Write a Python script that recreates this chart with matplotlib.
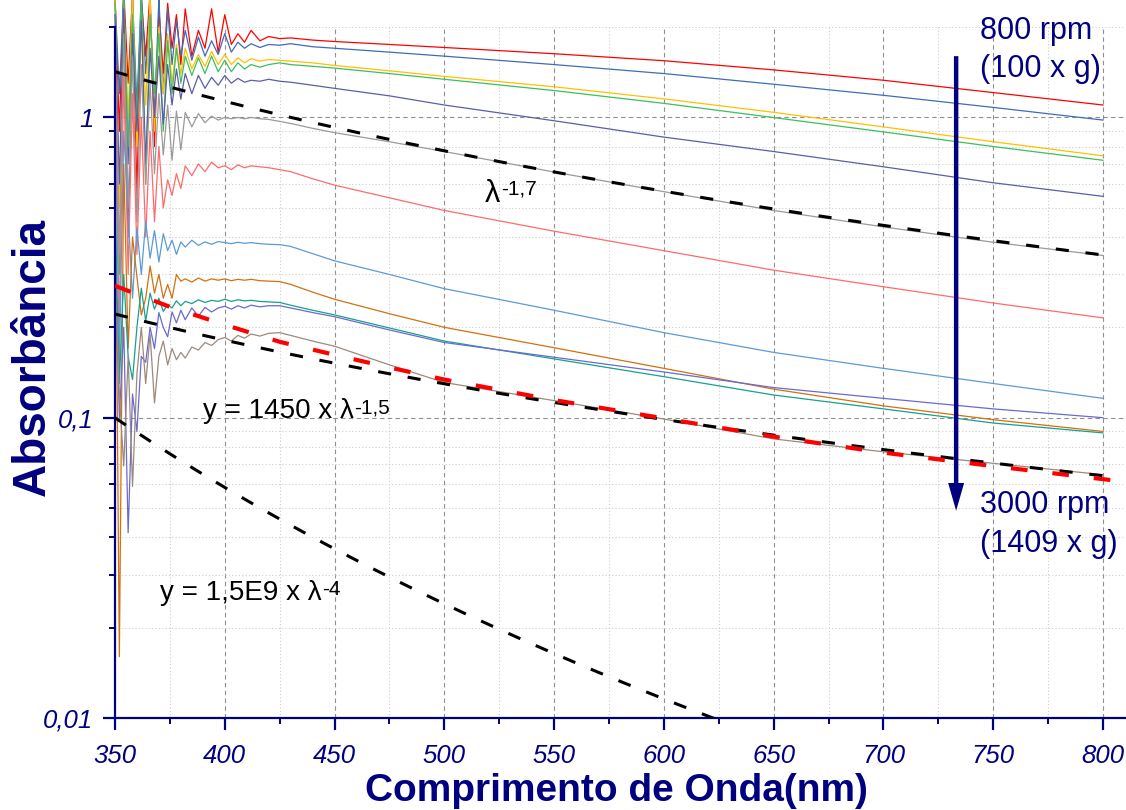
import numpy as np
import matplotlib
matplotlib.use('Agg')
import matplotlib.pyplot as plt
from matplotlib.ticker import FixedLocator, FixedFormatter, NullFormatter

plt.rcParams['font.family'] = ['Liberation Sans', 'DejaVu Sans']

navy = '#000080'

# wavelength grid of the spectra (nm)
wl = [350, 352, 354, 356, 358, 360, 362, 364, 366, 368,
      370, 372, 374, 376, 378, 380, 382, 385, 388, 391,
      394, 397, 400, 403, 406, 409, 412, 416, 420, 425,
      430, 440, 450, 475, 500, 550, 600, 650, 700, 750, 800]

# absorbance spectra, 800 rpm (top) down to 3000 rpm (bottom)
abs_01 = [2.6, 0.9, 2.7, 1.3, 2.6, 0.55, 2.5, 1.6, 2.6, 0.8,
          2.3, 1.4, 2.4, 1.7, 2.2, 1.5, 2.3, 1.6, 1.95, 1.7,
          2.3, 1.65, 2.2, 1.75, 1.9, 1.78, 1.95, 1.8, 1.86, 1.83,
          1.84, 1.81, 1.79, 1.75, 1.71, 1.63, 1.545, 1.44, 1.33, 1.21, 1.10]
abs_02 = [2.5, 1.2, 2.6, 0.7, 2.5, 1.1, 2.6, 1.4, 2.4, 1.0,
          2.5, 1.2, 2.3, 1.5, 2.1, 1.6, 1.95, 1.55, 1.85, 1.6,
          1.8, 1.62, 1.9, 1.65, 1.78, 1.7, 1.76, 1.71, 1.75, 1.74,
          1.76, 1.72, 1.70, 1.65, 1.60, 1.50, 1.40, 1.29, 1.185, 1.08, 0.98]
abs_03 = [2.6, 0.5, 2.4, 1.0, 2.6, 0.8, 2.3, 1.1, 2.5, 0.9,
          2.0, 1.2, 1.9, 1.3, 1.75, 1.4, 1.7, 1.45, 1.62, 1.48,
          1.66, 1.5, 1.62, 1.5, 1.58, 1.52, 1.57, 1.54, 1.56, 1.55,
          1.54, 1.52, 1.49, 1.43, 1.37, 1.265, 1.153, 1.04, 0.93, 0.83, 0.745]
abs_04 = [2.4, 0.3, 2.5, 0.8, 2.2, 1.0, 2.5, 0.6, 2.2, 1.2,
          1.9, 0.9, 1.8, 1.2, 1.7, 1.3, 1.6, 1.38, 1.58, 1.4,
          1.6, 1.42, 1.55, 1.42, 1.52, 1.45, 1.5, 1.47, 1.5, 1.52,
          1.5, 1.48, 1.46, 1.40, 1.34, 1.229, 1.114, 0.999, 0.895, 0.80, 0.72]
abs_05 = [2.2, 0.6, 2.3, 0.4, 1.9, 0.9, 2.1, 0.7, 1.7, 1.0,
          1.6, 0.95, 1.5, 1.1, 1.45, 1.15, 1.4, 1.2, 1.38, 1.25,
          1.36, 1.28, 1.38, 1.3, 1.35, 1.31, 1.33, 1.32, 1.34, 1.32,
          1.31, 1.28, 1.25, 1.18, 1.10, 0.975, 0.86, 0.77, 0.685, 0.606, 0.546]
abs_06 = [2.0, 0.35, 1.9, 0.5, 1.6, 0.45, 1.5, 0.6, 1.3, 0.65,
          1.2, 0.75, 1.1, 0.72, 1.05, 0.78, 1.04, 0.93, 1.03, 0.96,
          1.01, 0.98, 1.0, 0.99, 1.0, 0.99, 1.0, 0.99, 0.985, 0.97,
          0.955, 0.92, 0.89, 0.83, 0.77, 0.658, 0.566, 0.49, 0.432, 0.384, 0.347]
abs_07 = [1.6, 0.2, 1.4, 0.3, 1.2, 0.35, 1.0, 0.4, 0.9, 0.45,
          0.8, 0.5, 0.62, 0.55, 0.65, 0.58, 0.69, 0.64, 0.7, 0.66,
          0.71, 0.68, 0.69, 0.67, 0.695, 0.68, 0.69, 0.685, 0.68, 0.67,
          0.66, 0.625, 0.595, 0.54, 0.49, 0.418, 0.36, 0.31, 0.273, 0.241, 0.215]
abs_08 = [1.2, 0.15, 0.9, 0.48, 0.25, 0.43, 0.3, 0.45, 0.34, 0.42,
          0.33, 0.41, 0.36, 0.39, 0.35, 0.385, 0.37, 0.39, 0.375, 0.385,
          0.378, 0.386, 0.383, 0.38, 0.384, 0.381, 0.383, 0.38, 0.378, 0.377,
          0.372, 0.352, 0.333, 0.30, 0.269, 0.228, 0.192, 0.165, 0.146, 0.13, 0.116]
abs_09 = [0.9, 0.016, 0.7, 0.17, 0.4, 0.295, 0.22, 0.25, 0.32, 0.26,
          0.3, 0.25, 0.278, 0.25, 0.3, 0.285, 0.29, 0.283, 0.292, 0.285,
          0.29, 0.287, 0.29, 0.286, 0.289, 0.287, 0.289, 0.286, 0.285, 0.284,
          0.278, 0.262, 0.248, 0.222, 0.20, 0.171, 0.146, 0.1245, 0.1095, 0.0985, 0.090]
abs_10 = [0.5, 0.13, 0.3, 0.16, 0.134, 0.2, 0.27, 0.21, 0.26, 0.23,
          0.25, 0.226, 0.238, 0.232, 0.245, 0.236, 0.244, 0.24, 0.247, 0.242,
          0.246, 0.244, 0.248, 0.244, 0.247, 0.245, 0.246, 0.244, 0.243, 0.242,
          0.237, 0.228, 0.22, 0.199, 0.18, 0.157, 0.137, 0.119, 0.107, 0.096, 0.089]
abs_11 = [0.35, 0.1, 0.2, 0.0414, 0.12, 0.09, 0.16, 0.153, 0.2, 0.17,
          0.224, 0.2, 0.186, 0.225, 0.207, 0.228, 0.212, 0.232, 0.218, 0.233,
          0.225, 0.232, 0.235, 0.23, 0.236, 0.232, 0.237, 0.234, 0.236, 0.236,
          0.232, 0.224, 0.217, 0.196, 0.178, 0.159, 0.142, 0.126, 0.116, 0.107, 0.100]
abs_12 = [0.3, 0.12, 0.069, 0.16, 0.059, 0.14, 0.2, 0.13, 0.19, 0.112,
          0.16, 0.18, 0.15, 0.17, 0.156, 0.165, 0.158, 0.172, 0.168, 0.178,
          0.174, 0.182, 0.185, 0.18, 0.188, 0.184, 0.19, 0.187, 0.191, 0.192,
          0.188, 0.18, 0.173, 0.15, 0.131, 0.114, 0.099, 0.085, 0.077, 0.0705, 0.0646]

spectra = [abs_01, abs_02, abs_03, abs_04, abs_05, abs_06,
           abs_07, abs_08, abs_09, abs_10, abs_11, abs_12]
colors = ['#ff0000', '#3d6db5', '#ffc000', '#3cbf5c', '#5b5ea6', '#9a9a9a',
          '#ff6b6b', '#5b9bd5', '#d3700f', '#17a08f', '#6a6ad0', '#9c8a7e']

# empirical fit of the last spectrum (red dashed)
fit_wl = [350, 375, 400, 425, 450, 475, 500, 550, 600, 650, 700, 750, 805]
fit_abs = [0.275, 0.234, 0.204, 0.179, 0.162, 0.147, 0.134, 0.1145,
           0.0995, 0.0865, 0.0765, 0.069, 0.0618]

# power laws y = A * lambda^-n
law_17 = (3.0e4, 1.7)
law_15 = (1450., 1.5)
law_4 = (1.5e9, 4.0)


def power_label(ax, x, y, base, sup, size, sup_size):
    """text with a superscript glued to its upper right corner"""
    t = ax.text(x, y, base, fontsize=size, ha='left', va='baseline')
    ax.annotate(sup, xy=(1, 1), xycoords=t, xytext=(0.5, 0),
                textcoords='offset points', fontsize=sup_size,
                ha='left', va='top')
    return t


fig = plt.figure(figsize=(11.26, 8.10), dpi=100)
ax = fig.add_axes([0.1021, 0.1136, 0.897, 0.853])
ax.set_yscale('log')
ax.set_xlim(350, 810)
ax.set_ylim(0.01, 2.0)

# grid
for x in range(400, 801, 50):
    ax.axvline(x, color='#909090', lw=0.8, ls=(0, (4, 3)), zorder=0)
for x in range(375, 801, 50):
    ax.axvline(x, color='#cccccc', lw=0.8, ls=(0, (1, 2)), zorder=0)
for y in [0.1, 1.0]:
    ax.axhline(y, color='#909090', lw=0.8, ls=(0, (4, 3)), zorder=0)
for dec in [0.01, 0.1, 1.0]:
    for m in range(2, 10):
        if dec * m <= 2.0:
            ax.axhline(dec * m, color='#cccccc', lw=0.8, ls=(0, (1, 2)),
                       zorder=0)

for vals, c in zip(spectra, colors):
    ax.plot(wl, vals, color=c, lw=0.9, clip_on=False, zorder=2)

lam = np.linspace(350, 803, 300)
for A, n in [law_17, law_15, law_4]:
    ax.plot(lam, A * lam**-n, color='k', lw=2.2, dashes=(4.3, 5.5), zorder=3)
ax.plot(fit_wl, fit_abs, color='#ff0000', lw=3.0, dashes=(4.0, 6.0), zorder=4)

# fit labels
power_label(ax, 518.6, 0.521, u'\u03bb', '-1,7', 22, 15)
power_label(ax, 390.1, 0.0995, u'y = 1450 x \u03bb', '-1,5', 20, 15)
power_label(ax, 370.5, 0.0247, u'y = 1,5E9 x \u03bb', '-4', 20, 15)

# centrifugation arrow
ax.annotate('', xy=(733.1, 0.049), xytext=(733.1, 1.6),
            arrowprops=dict(facecolor=navy, edgecolor=navy, width=3.2,
                            headwidth=11.5, headlength=20, linewidth=0,
                            shrink=0), annotation_clip=False, zorder=5)
for y, s in [(1.82, '800 rpm'), (1.36, '(100 x g)'),
             (0.0482, '3000 rpm'), (0.0358, '(1409 x g)')]:
    ax.text(744.1, y, s, fontsize=22, color=navy, va='baseline', ha='left')

# axes styling
for side in ['top', 'right']:
    ax.spines[side].set_visible(False)
for side in ['left', 'bottom']:
    ax.spines[side].set_color(navy)
    ax.spines[side].set_linewidth(1.6)

ax.xaxis.set_major_locator(FixedLocator(range(350, 801, 50)))
ax.xaxis.set_minor_locator(FixedLocator(range(375, 801, 50)))
ax.xaxis.set_major_formatter(FixedFormatter([str(v) for v in range(350, 801, 50)]))
ax.yaxis.set_major_locator(FixedLocator([0.01, 0.1, 1.0]))
ax.yaxis.set_major_formatter(FixedFormatter(['0,01', '0,1', '1']))
ax.yaxis.set_minor_locator(FixedLocator(
    [d * m for d in [0.01, 0.1, 1.0] for m in range(2, 10) if d * m <= 2.0]))
ax.yaxis.set_minor_formatter(NullFormatter())

ax.tick_params(which='major', direction='out', length=8.6, width=1.6,
               color=navy, labelcolor=navy, labelsize=18.5, pad=7)
ax.tick_params(axis='x', which='major', pad=10)
ax.tick_params(which='minor', direction='out', length=4.5, width=1.4,
               color=navy)
for lbl in ax.get_xticklabels() + ax.get_yticklabels():
    lbl.set_fontstyle('italic')

fig.text(616 / 1126, 1 - 801 / 810, 'Comprimento de Onda(nm)', fontsize=28,
         fontweight='bold', color=navy, ha='center', va='baseline')
fig.text(33 / 1126, 1 - 357 / 810, u'Absorb\u00e2ncia', fontsize=33,
         fontweight='bold', color=navy, ha='center', va='center', rotation=90)

fig.savefig('out.png', dpi=100)
